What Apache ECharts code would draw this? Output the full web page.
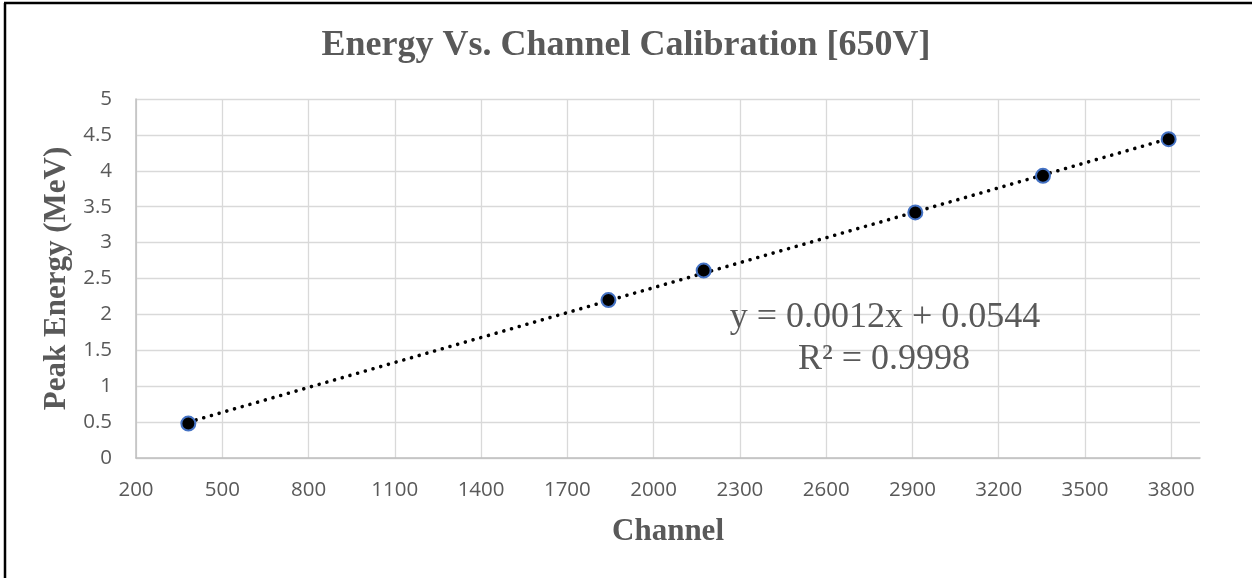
<!DOCTYPE html>
<html>
<head>
<meta charset="utf-8">
<script src="https://cdn.jsdelivr.net/npm/echarts@6/dist/echarts.min.js"></script>
<style>
html,body{margin:0;padding:0;background:#fff;}
#chart{width:1252px;height:578px;}
</style>
</head>
<body>
<div id="chart"></div>
<script>
// ---- data ----
const channels = [382, 1843, 2174, 2910, 3354, 3791];
const energies = [0.48, 2.20, 2.61, 3.42, 3.93, 4.44];
const titleText = 'Energy Vs. Channel Calibration [650V]';
const xAxisTitle = 'Channel';
const yAxisTitle = 'Peak Energy (MeV)';
const equationLines = ['y = 0.0012x + 0.0544', 'R² = 0.9998'];
const xMin = 200, xMax = 3900, xStep = 300;
const yMin = 0, yMax = 5, yStep = 0.5;

// least-squares trendline from the data
const n = channels.length;
const mx = channels.reduce((a, b) => a + b, 0) / n;
const my = energies.reduce((a, b) => a + b, 0) / n;
let sxy = 0, sxx = 0;
for (let i = 0; i < n; i++) { sxy += (channels[i] - mx) * (energies[i] - my); sxx += (channels[i] - mx) ** 2; }
const slope = sxy / sxx, intercept = my - slope * mx;
const x0 = Math.min(...channels), x1 = Math.max(...channels);
const trend = [[x0, intercept + slope * x0], [x1, intercept + slope * x1]];

const points = channels.map((c, i) => [c, energies[i]]);

const chart = echarts.init(document.getElementById('chart'), null, {renderer: 'canvas'});
const serif = '"Liberation Serif", "DejaVu Serif", serif';
const sans = '"Open Sans", "Noto Sans", sans-serif';
const grey = '#595959';

chart.setOption({
  backgroundColor: '#ffffff',
  animation: false,
  title: {
    text: titleText,
    left: 'center',
    top: 23,
    textStyle: {fontFamily: serif, fontWeight: 'bold', fontSize: 36, color: grey}
  },
  grid: {left: 136, top: 99, right: 52, bottom: 120, containLabel: false},
  xAxis: {
    type: 'value', min: xMin, max: xMax, interval: xStep,
    name: xAxisTitle, nameLocation: 'middle', nameGap: 58,
    nameTextStyle: {fontFamily: serif, fontWeight: 'bold', fontSize: 31, color: grey},
    axisLine: {show: true, lineStyle: {color: '#bfbfbf', width: 1.5}},
    axisTick: {show: false},
    axisLabel: {fontFamily: sans, fontSize: 20.5, color: grey, margin: 22, showMaxLabel: false,
      formatter: v => String(v)},
    splitLine: {show: true, showMaxLine: false, lineStyle: {color: '#d9d9d9', width: 1.3}}
  },
  yAxis: {
    type: 'value', min: yMin, max: yMax, interval: yStep,
    name: yAxisTitle, nameLocation: 'middle', nameGap: 63, nameRotate: 90,
    nameTextStyle: {fontFamily: serif, fontWeight: 'bold', fontSize: 31, color: grey},
    axisLine: {show: true, lineStyle: {color: '#bfbfbf', width: 1.5}},
    axisTick: {show: false},
    axisLabel: {fontFamily: sans, fontSize: 20.5, color: grey, margin: 24, formatter: v => String(v)},
    splitLine: {show: true, lineStyle: {color: '#d9d9d9', width: 1.3}}
  },
  series: [
    {
      type: 'line', data: trend, symbol: 'none', z: 2,
      lineStyle: {color: '#000', width: 3.6, type: [0.01, 8], cap: 'round'}
    },
    {
      type: 'scatter', data: points, symbol: 'circle', symbolSize: 14, z: 3,
      itemStyle: {color: '#000', borderColor: '#4472C4', borderWidth: 2, opacity: 1}
    }
  ],
  graphic: [
    {type: 'line', shape: {x1: 5, y1: 3, x2: 5, y2: 578}, style: {stroke: '#000', lineWidth: 2.5}, silent: true},
    {type: 'line', shape: {x1: 4, y1: 3, x2: 1252, y2: 3}, style: {stroke: '#000', lineWidth: 2.5}, silent: true},
    {type: 'text', x: 885, y: 318, style: {text: equationLines[0], font: '36px ' + serif, fill: grey, textAlign: 'center', textVerticalAlign: 'middle'}, silent: true, z: 10},
    {type: 'text', x: 884, y: 360, style: {text: equationLines[1], font: '36px ' + serif, fill: grey, textAlign: 'center', textVerticalAlign: 'middle'}, silent: true, z: 10}
  ]
});
</script>
</body>
</html>
